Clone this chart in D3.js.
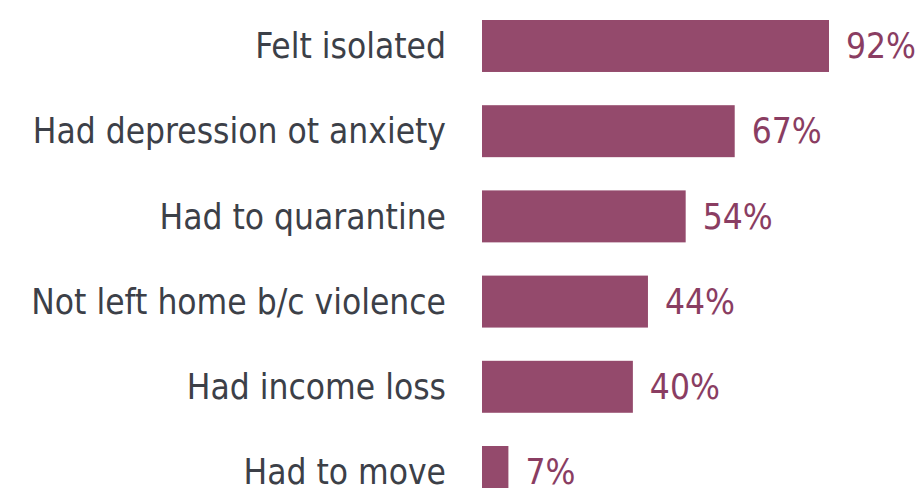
<!DOCTYPE html>
<html>
<head>
<meta charset="utf-8">
<script src="https://cdn.jsdelivr.net/npm/d3@7"></script>
<style>
  body { margin: 0; background: #fff; }
  svg text { font-family: "DejaVu Sans Condensed", "DejaVu Sans", Verdana, sans-serif; font-stretch: condensed; }
</style>
</head>
<body>
<svg id="chart"></svg>
<script>
var categories = ["Felt isolated", "Had depression ot anxiety", "Had to quarantine",
  "Not left home b/c violence", "Had income loss", "Had to move"];
var values = [92, 67, 54, 44, 40, 7];

var width = 923, height = 488;
var barLeft = 482;

var svg = d3.select("#chart")
  .attr("width", width)
  .attr("height", height);

// 92% ends at ~829px
var xScale = d3.scaleLinear()
  .domain([0, 92])
  .range([0, 347]);

var yScale = d3.scaleBand()
  .domain(categories)
  .range([20, 20 + 85.2 * (6 - 0.39)])
  .paddingInner(0.39)
  .paddingOuter(0);

var data = categories.map(function(c, i) { return {cat: c, val: values[i]}; });

svg.selectAll("rect")
  .data(data)
  .enter().append("rect")
  .attr("x", barLeft)
  .attr("y", function(d) { return yScale(d.cat); })
  .attr("width", function(d) { return xScale(d.val); })
  .attr("height", yScale.bandwidth())
  .attr("fill", "#944a6c");

svg.selectAll("text.cat")
  .data(data)
  .enter().append("text")
  .attr("class", "cat")
  .attr("x", 446)
  .attr("y", function(d) { return yScale(d.cat) + yScale.bandwidth() / 2; })
  .attr("dy", "0.35em")
  .attr("text-anchor", "end")
  .attr("font-size", 35)
  .attr("fill", "#3c4048")
  .text(function(d) { return d.cat; });

svg.selectAll("text.val")
  .data(data)
  .enter().append("text")
  .attr("class", "val")
  .attr("x", function(d) { return barLeft + xScale(d.val) + 17; })
  .attr("y", function(d) { return yScale(d.cat) + yScale.bandwidth() / 2; })
  .attr("dy", "0.35em")
  .attr("font-size", 35)
  .attr("fill", "#8a3d62")
  .text(function(d) { return d.val + "%"; });
</script>
</body>
</html>
